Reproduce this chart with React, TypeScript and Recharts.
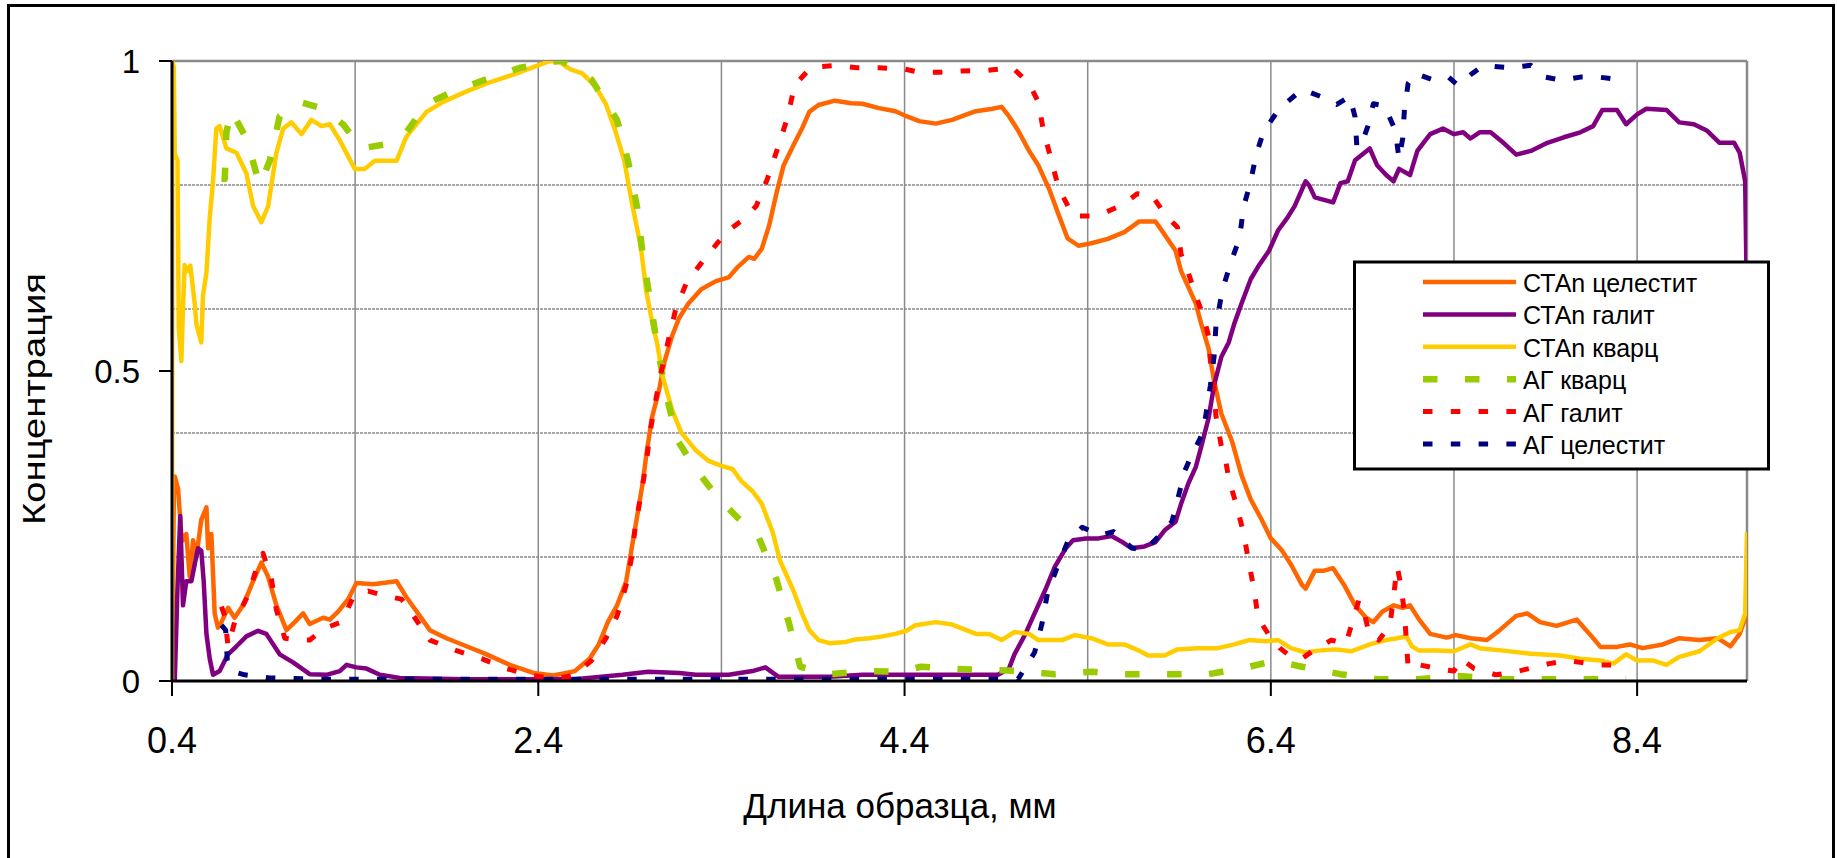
import { Line, LineChart, ReferenceLine, XAxis, YAxis } from 'recharts'

type Pt = [number, number]

const xTicks = [0.4, 2.4, 4.4, 6.4, 8.4]
const yTicks = [0, 0.5, 1]
const gridX = [1.4, 2.4, 3.4, 4.4, 5.4, 6.4, 7.4, 8.4]
const gridY = [0.2, 0.4, 0.6, 0.8]

// СТАn целестит
const ctCelestine: Pt[] = [
  [0.4, 0], [0.41, 0.3], [0.415, 0.33], [0.433, 0.31], [0.45, 0.24], [0.46, 0.227], [0.478, 0.237],
  [0.497, 0.168], [0.515, 0.227], [0.533, 0.2], [0.56, 0.26], [0.588, 0.28], [0.597, 0.214],
  [0.615, 0.237], [0.633, 0.109], [0.651, 0.086], [0.67, 0.095], [0.706, 0.118], [0.742, 0.102],
  [0.788, 0.122], [0.843, 0.161], [0.888, 0.191], [0.925, 0.168], [0.97, 0.122], [1.025, 0.082],
  [1.07, 0.095], [1.116, 0.109], [1.152, 0.092], [1.225, 0.102], [1.262, 0.099], [1.307, 0.112],
  [1.362, 0.132], [1.407, 0.158], [1.498, 0.156], [1.626, 0.161], [1.68, 0.135], [1.753, 0.105],
  [1.808, 0.082], [1.899, 0.069], [2.008, 0.056], [2.118, 0.043], [2.245, 0.026], [2.373, 0.013],
  [2.482, 0.009], [2.537, 0.012], [2.6, 0.016], [2.68, 0.036], [2.73, 0.059], [2.78, 0.095],
  [2.83, 0.122], [2.88, 0.161], [2.91, 0.214], [2.94, 0.266], [2.97, 0.319], [2.99, 0.365],
  [3.02, 0.424], [3.06, 0.47], [3.09, 0.516], [3.13, 0.556], [3.17, 0.586], [3.22, 0.609],
  [3.29, 0.632], [3.37, 0.645], [3.44, 0.651], [3.49, 0.668], [3.55, 0.684], [3.58, 0.681],
  [3.62, 0.697], [3.66, 0.734], [3.7, 0.786], [3.74, 0.832], [3.8, 0.868], [3.84, 0.891],
  [3.88, 0.918], [3.93, 0.929], [4.02, 0.936], [4.11, 0.932], [4.17, 0.931], [4.26, 0.924],
  [4.35, 0.919], [4.41, 0.911], [4.48, 0.903], [4.57, 0.899], [4.66, 0.905], [4.74, 0.914],
  [4.79, 0.919], [4.88, 0.923], [4.93, 0.926], [4.97, 0.911], [5.02, 0.888], [5.08, 0.855],
  [5.13, 0.832], [5.19, 0.793], [5.24, 0.753], [5.29, 0.714], [5.35, 0.702], [5.42, 0.706],
  [5.51, 0.713], [5.6, 0.724], [5.68, 0.741], [5.77, 0.741], [5.82, 0.72], [5.88, 0.694],
  [5.91, 0.661], [5.95, 0.635], [5.99, 0.609], [6.02, 0.576], [6.06, 0.536], [6.09, 0.484],
  [6.13, 0.431], [6.19, 0.385], [6.24, 0.332], [6.29, 0.293], [6.35, 0.26], [6.4, 0.23],
  [6.46, 0.211], [6.51, 0.188], [6.57, 0.155], [6.59, 0.149], [6.64, 0.178], [6.69, 0.178],
  [6.74, 0.182], [6.8, 0.155], [6.86, 0.122], [6.92, 0.102], [6.96, 0.095], [7.01, 0.112],
  [7.07, 0.122], [7.12, 0.118], [7.16, 0.122], [7.21, 0.099], [7.27, 0.076], [7.36, 0.07],
  [7.41, 0.074], [7.49, 0.069], [7.58, 0.066], [7.65, 0.082], [7.74, 0.105], [7.8, 0.109],
  [7.87, 0.095], [7.96, 0.089], [8.07, 0.099], [8.14, 0.076], [8.2, 0.055], [8.29, 0.055],
  [8.36, 0.059], [8.43, 0.053], [8.54, 0.059], [8.63, 0.069], [8.74, 0.066], [8.84, 0.069],
  [8.91, 0.056], [8.96, 0.076], [9.0, 0.109],
]

// СТАn галит
const ctHalite: Pt[] = [
  [0.4, 0], [0.415, 0], [0.43, 0.15], [0.445, 0.266], [0.46, 0.122], [0.478, 0.161], [0.506, 0.161],
  [0.524, 0.188], [0.542, 0.214], [0.56, 0.21], [0.573, 0.161], [0.588, 0.076], [0.606, 0.036],
  [0.624, 0.01], [0.66, 0.016], [0.706, 0.043], [0.752, 0.056], [0.806, 0.072], [0.87, 0.081],
  [0.915, 0.076], [0.988, 0.043], [1.061, 0.03], [1.152, 0.011], [1.243, 0.01], [1.316, 0.016],
  [1.353, 0.026], [1.407, 0.022], [1.462, 0.02], [1.535, 0.01], [1.644, 0.005], [2.0, 0.003],
  [2.6, 0.003], [2.86, 0.01], [3.0, 0.015], [3.17, 0.013], [3.26, 0.01], [3.44, 0.01], [3.57, 0.016],
  [3.64, 0.022], [3.71, 0.007], [3.99, 0.007], [4.17, 0.01], [4.53, 0.01], [4.91, 0.01],
  [4.97, 0.02], [5.0, 0.043], [5.06, 0.076], [5.11, 0.109], [5.17, 0.148], [5.22, 0.184],
  [5.28, 0.214], [5.32, 0.227], [5.39, 0.23], [5.46, 0.23], [5.53, 0.234], [5.59, 0.224],
  [5.64, 0.214], [5.71, 0.217], [5.77, 0.224], [5.82, 0.243], [5.88, 0.257], [5.91, 0.286],
  [5.95, 0.319], [5.99, 0.345], [6.02, 0.378], [6.06, 0.424], [6.09, 0.477], [6.13, 0.523],
  [6.17, 0.546], [6.2, 0.576], [6.24, 0.609], [6.29, 0.648], [6.33, 0.668], [6.39, 0.694],
  [6.44, 0.727], [6.49, 0.747], [6.53, 0.766], [6.59, 0.806], [6.61, 0.799], [6.64, 0.78],
  [6.69, 0.776], [6.74, 0.772], [6.78, 0.803], [6.82, 0.806], [6.86, 0.84], [6.94, 0.859],
  [6.98, 0.832], [7.03, 0.816], [7.07, 0.806], [7.1, 0.826], [7.16, 0.816], [7.2, 0.855],
  [7.27, 0.882], [7.34, 0.891], [7.4, 0.882], [7.45, 0.885], [7.49, 0.875], [7.54, 0.885],
  [7.6, 0.885], [7.67, 0.868], [7.74, 0.849], [7.82, 0.855], [7.91, 0.868], [8.0, 0.877],
  [8.09, 0.885], [8.16, 0.895], [8.21, 0.921], [8.29, 0.921], [8.34, 0.898], [8.4, 0.914],
  [8.45, 0.923], [8.56, 0.921], [8.63, 0.901], [8.71, 0.898], [8.78, 0.888], [8.85, 0.868],
  [8.93, 0.868], [8.96, 0.852], [8.99, 0.806], [9.0, 0.6],
]

// СТАn кварц
const ctQuartz: Pt[] = [
  [0.4, 0], [0.402, 1.0], [0.41, 0.99], [0.415, 0.85], [0.43, 0.84], [0.437, 0.57], [0.451, 0.516],
  [0.46, 0.6], [0.469, 0.671], [0.487, 0.661], [0.5, 0.67], [0.524, 0.609], [0.533, 0.576],
  [0.56, 0.546], [0.569, 0.622], [0.588, 0.658], [0.606, 0.747], [0.624, 0.806], [0.642, 0.891],
  [0.66, 0.895], [0.697, 0.859], [0.752, 0.852], [0.806, 0.819], [0.843, 0.766], [0.888, 0.74],
  [0.925, 0.766], [0.97, 0.852], [1.007, 0.891], [1.052, 0.901], [1.107, 0.882], [1.161, 0.905],
  [1.216, 0.895], [1.262, 0.898], [1.316, 0.872], [1.398, 0.826], [1.453, 0.826], [1.507, 0.839],
  [1.626, 0.839], [1.68, 0.878], [1.79, 0.918], [1.881, 0.934], [2.008, 0.951], [2.118, 0.964],
  [2.282, 0.98], [2.373, 0.99], [2.464, 1.0], [2.518, 0.998], [2.573, 0.987], [2.64, 0.98],
  [2.71, 0.96], [2.77, 0.93], [2.82, 0.888], [2.87, 0.839], [2.91, 0.773], [2.96, 0.7],
  [2.99, 0.628], [3.02, 0.582], [3.05, 0.543], [3.08, 0.49], [3.13, 0.438], [3.18, 0.401],
  [3.26, 0.372], [3.33, 0.355], [3.4, 0.347], [3.46, 0.342], [3.51, 0.322], [3.57, 0.306],
  [3.62, 0.286], [3.68, 0.24], [3.72, 0.194], [3.79, 0.148], [3.84, 0.109], [3.88, 0.082],
  [3.93, 0.066], [3.99, 0.061], [4.08, 0.063], [4.13, 0.067], [4.21, 0.069], [4.28, 0.072],
  [4.35, 0.076], [4.41, 0.081], [4.46, 0.09], [4.57, 0.095], [4.66, 0.091], [4.73, 0.083],
  [4.79, 0.076], [4.86, 0.076], [4.93, 0.066], [5.0, 0.079], [5.08, 0.076], [5.13, 0.066],
  [5.26, 0.066], [5.33, 0.074], [5.42, 0.069], [5.51, 0.059], [5.6, 0.059], [5.68, 0.049],
  [5.73, 0.041], [5.82, 0.041], [5.89, 0.051], [6.0, 0.053], [6.11, 0.053], [6.2, 0.059],
  [6.28, 0.066], [6.37, 0.064], [6.44, 0.066], [6.51, 0.053], [6.59, 0.046], [6.66, 0.049],
  [6.75, 0.051], [6.84, 0.048], [6.94, 0.059], [7.03, 0.066], [7.09, 0.069], [7.14, 0.072],
  [7.17, 0.056], [7.21, 0.049], [7.31, 0.049], [7.4, 0.048], [7.49, 0.059], [7.54, 0.053],
  [7.67, 0.049], [7.82, 0.044], [7.98, 0.041], [8.09, 0.036], [8.2, 0.033], [8.27, 0.028],
  [8.34, 0.043], [8.4, 0.033], [8.49, 0.033], [8.56, 0.026], [8.63, 0.039], [8.74, 0.048],
  [8.84, 0.069], [8.91, 0.079], [8.96, 0.082], [8.99, 0.109], [9.0, 0.24],
]

// АГ кварц
const agQuartz: Pt[] = [
  [0.67, 0.81], [0.688, 0.81], [0.697, 0.885], [0.724, 0.92], [0.806, 0.875], [0.879, 0.8],
  [0.934, 0.839], [0.988, 0.911], [1.098, 0.934], [1.216, 0.924], [1.334, 0.898], [1.435, 0.859],
  [1.553, 0.865], [1.68, 0.885], [1.79, 0.931], [1.936, 0.951], [2.1, 0.969], [2.3, 0.989],
  [2.51, 1.0], [2.53, 1.0], [2.69, 0.97], [2.83, 0.905], [2.89, 0.839], [2.94, 0.763],
  [2.97, 0.688], [3.01, 0.615], [3.05, 0.539], [3.1, 0.46], [3.16, 0.388], [3.26, 0.342],
  [3.38, 0.296], [3.49, 0.263], [3.6, 0.234], [3.7, 0.164], [3.77, 0.092], [3.83, 0.023],
  [4.0, 0.011], [4.18, 0.016], [4.37, 0.015], [4.49, 0.023], [4.64, 0.02], [4.84, 0.018],
  [5.04, 0.016], [5.22, 0.011], [5.42, 0.015], [5.6, 0.011], [5.84, 0.011], [6.06, 0.011],
  [6.27, 0.022], [6.42, 0.033], [6.57, 0.023], [6.78, 0.011], [6.98, 0.003], [7.2, 0.003],
  [7.43, 0.008], [7.67, 0.003], [7.9, 0.003], [8.12, 0.003], [8.34, 0.003],
]

// АГ галит
const agHalite: Pt[] = [
  [0.67, 0.12], [0.688, 0.105], [0.706, 0.056], [0.742, 0.095], [0.815, 0.138], [0.861, 0.181],
  [0.897, 0.206], [0.943, 0.164], [0.97, 0.115], [1.016, 0.069], [1.098, 0.066], [1.152, 0.066],
  [1.225, 0.084], [1.325, 0.095], [1.389, 0.135], [1.471, 0.145], [1.553, 0.138], [1.653, 0.132],
  [1.726, 0.102], [1.808, 0.066], [1.954, 0.049], [2.09, 0.036], [2.227, 0.02], [2.345, 0.01],
  [2.49, 0.003], [2.6, 0.01], [2.69, 0.033], [2.77, 0.069], [2.83, 0.105], [2.88, 0.155],
  [2.91, 0.2], [2.93, 0.25], [2.96, 0.299], [2.99, 0.352], [3.01, 0.401], [3.04, 0.451],
  [3.07, 0.497], [3.11, 0.549], [3.15, 0.599], [3.21, 0.643], [3.29, 0.674], [3.38, 0.707],
  [3.44, 0.727], [3.53, 0.747], [3.59, 0.766], [3.65, 0.809], [3.71, 0.862], [3.76, 0.908],
  [3.8, 0.961], [3.89, 0.99], [4.03, 0.993], [4.14, 0.989], [4.26, 0.989], [4.4, 0.987],
  [4.48, 0.982], [4.6, 0.982], [4.71, 0.984], [4.85, 0.985], [4.99, 0.989], [5.08, 0.964],
  [5.13, 0.934], [5.16, 0.885], [5.2, 0.842], [5.24, 0.796], [5.32, 0.75], [5.41, 0.75],
  [5.49, 0.755], [5.59, 0.768], [5.67, 0.786], [5.75, 0.783], [5.83, 0.75], [5.89, 0.732],
  [5.91, 0.688], [5.95, 0.658], [5.99, 0.622], [6.03, 0.59], [6.06, 0.556], [6.07, 0.516],
  [6.09, 0.474], [6.1, 0.428], [6.13, 0.378], [6.15, 0.362], [6.17, 0.326], [6.21, 0.286],
  [6.25, 0.24], [6.28, 0.191], [6.31, 0.145], [6.33, 0.102], [6.39, 0.074], [6.45, 0.053],
  [6.51, 0.039], [6.57, 0.036], [6.63, 0.049], [6.73, 0.066], [6.81, 0.06], [6.85, 0.1],
  [6.88, 0.13], [6.91, 0.11], [6.94, 0.072], [6.99, 0.066], [7.05, 0.089], [7.09, 0.184],
  [7.11, 0.155], [7.13, 0.109], [7.15, 0.02], [7.21, 0.026], [7.31, 0.02], [7.4, 0.016],
  [7.44, 0.036], [7.51, 0.02], [7.63, 0.01], [7.74, 0.015], [7.85, 0.023], [7.92, 0.028],
  [8.02, 0.033], [8.09, 0.03], [8.2, 0.026], [8.29, 0.026],
]

// АГ целестит
const agCelestine: Pt[] = [
  [0.67, 0.09], [0.693, 0.082], [0.702, 0.033], [0.724, 0.016], [0.797, 0.01], [0.934, 0.005],
  [1.2, 0.003], [2.0, 0.003], [3.0, 0.003], [4.0, 0.003], [5.02, 0.003], [5.11, 0.046],
  [5.15, 0.092], [5.18, 0.141], [5.23, 0.181], [5.29, 0.224], [5.37, 0.248], [5.47, 0.235],
  [5.54, 0.241], [5.64, 0.215], [5.71, 0.21], [5.79, 0.234], [5.86, 0.257], [5.9, 0.303],
  [5.93, 0.339], [5.96, 0.359], [6.03, 0.401], [6.05, 0.438], [6.07, 0.477], [6.09, 0.523],
  [6.1, 0.572], [6.13, 0.622], [6.14, 0.635], [6.18, 0.674], [6.23, 0.715], [6.25, 0.763],
  [6.29, 0.806], [6.32, 0.849], [6.36, 0.886], [6.43, 0.916], [6.49, 0.934], [6.57, 0.954],
  [6.67, 0.943], [6.76, 0.93], [6.83, 0.943], [6.86, 0.91], [6.87, 0.86], [6.9, 0.87],
  [6.93, 0.895], [6.96, 0.931], [7.02, 0.928], [7.08, 0.888], [7.1, 0.842], [7.12, 0.875],
  [7.13, 0.924], [7.15, 0.964], [7.19, 0.98], [7.28, 0.97], [7.37, 0.974], [7.42, 0.961],
  [7.5, 0.98], [7.56, 0.993], [7.7, 0.989], [7.82, 0.993], [7.9, 0.974], [7.99, 0.969],
  [8.09, 0.974], [8.19, 0.974], [8.31, 0.97],
]

const series = [
  { name: 'СТАn целестит', data: ctCelestine, color: '#FF6600', width: 4.5, dash: undefined },
  { name: 'СТАn галит', data: ctHalite, color: '#800080', width: 4.5, dash: undefined },
  { name: 'СТАn кварц', data: ctQuartz, color: '#FFCC00', width: 4.5, dash: undefined },
  { name: 'АГ кварц', data: agQuartz, color: '#99CC00', width: 6.5, dash: '14.5 27.5' },
  { name: 'АГ галит', data: agHalite, color: '#FF0000', width: 5, dash: '9.5 18.3' },
  { name: 'АГ целестит', data: agCelestine, color: '#000080', width: 5, dash: '9.5 18.3' },
]

const font = 'Liberation Sans, Arial, sans-serif'

export default function App() {
  return (
    <div
      style={{
        position: 'absolute',
        left: 0,
        top: 0,
        width: 1837,
        height: 858,
        overflow: 'hidden',
        background: '#fff',
        fontFamily: font,
      }}
    >
      <LineChart width={1837} height={858} margin={{ top: 61, right: 90, bottom: 97, left: 0 }}>
        {gridY.map((v) => (
          <ReferenceLine key={'gy' + v} y={v} stroke='#8a8a8a' strokeWidth={1.5} strokeDasharray='3 1' />
        ))}
        {gridX.map((v) => (
          <ReferenceLine key={'gx' + v} x={v} stroke='#8a8a8a' strokeWidth={1.5} />
        ))}
        <ReferenceLine y={1} stroke='#8a8a8a' strokeWidth={2.5} />
        <ReferenceLine x={9} stroke='#8a8a8a' strokeWidth={2.5} />
        <XAxis
          dataKey='x'
          type='number'
          domain={[0.4, 9]}
          allowDataOverflow
          ticks={xTicks}
          tickFormatter={(v: number) => v.toFixed(1)}
          height={80}
          tickSize={15}
          tickMargin={31}
          axisLine={{ stroke: '#000', strokeWidth: 3 }}
          tickLine={{ stroke: '#000', strokeWidth: 2 }}
          tick={{ fill: '#000', fontSize: 36, fontFamily: font }}
        />
        <YAxis
          dataKey='y'
          type='number'
          domain={[0, 1]}
          allowDataOverflow
          ticks={yTicks}
          width={172}
          tickSize={13}
          tickMargin={19}
          axisLine={{ stroke: '#000', strokeWidth: 3 }}
          tickLine={{ stroke: '#000', strokeWidth: 2 }}
          tick={{ fill: '#000', fontSize: 33, fontFamily: font }}
        />
        {series.map((s) => (
          <Line
            key={s.name}
            name={s.name}
            data={s.data.map(([x, y]) => ({ x, y }))}
            dataKey='y'
            type='linear'
            stroke={s.color}
            strokeWidth={s.width}
            strokeDasharray={s.dash}
            strokeLinejoin='round'
            dot={false}
            activeDot={false}
            isAnimationActive={false}
          />
        ))}
      </LineChart>

      <svg
        width={1837}
        height={858}
        style={{ position: 'absolute', left: 0, top: 0, pointerEvents: 'none', fontFamily: font }}
      >
        <rect x={8.5} y={5.5} width={1825} height={870} fill='none' stroke='#000' strokeWidth={3} />
        <text
          x={45}
          y={399}
          transform='rotate(-90 45 399)'
          textAnchor='middle'
          fontSize={32}
          textLength={252}
          lengthAdjust='spacingAndGlyphs'
        >
          Концентрация
        </text>
        <text x={900} y={818} textAnchor='middle' fontSize={35}>
          Длина образца, мм
        </text>

        {/* legend */}
        <rect x={1354.5} y={262} width={414} height={207} fill='#fff' stroke='#000' strokeWidth={3} />
        {series.map((s, i) => {
          const y = 282 + i * 32.4
          return (
            <g key={s.name}>
              <line
                x1={1423}
                x2={1516}
                y1={y}
                y2={y}
                stroke={s.color}
                strokeWidth={s.width}
                strokeDasharray={s.dash}
              />
              <text x={1523} y={y + 10} fontSize={25}>
                {s.name}
              </text>
            </g>
          )
        })}
      </svg>
    </div>
  )
}
